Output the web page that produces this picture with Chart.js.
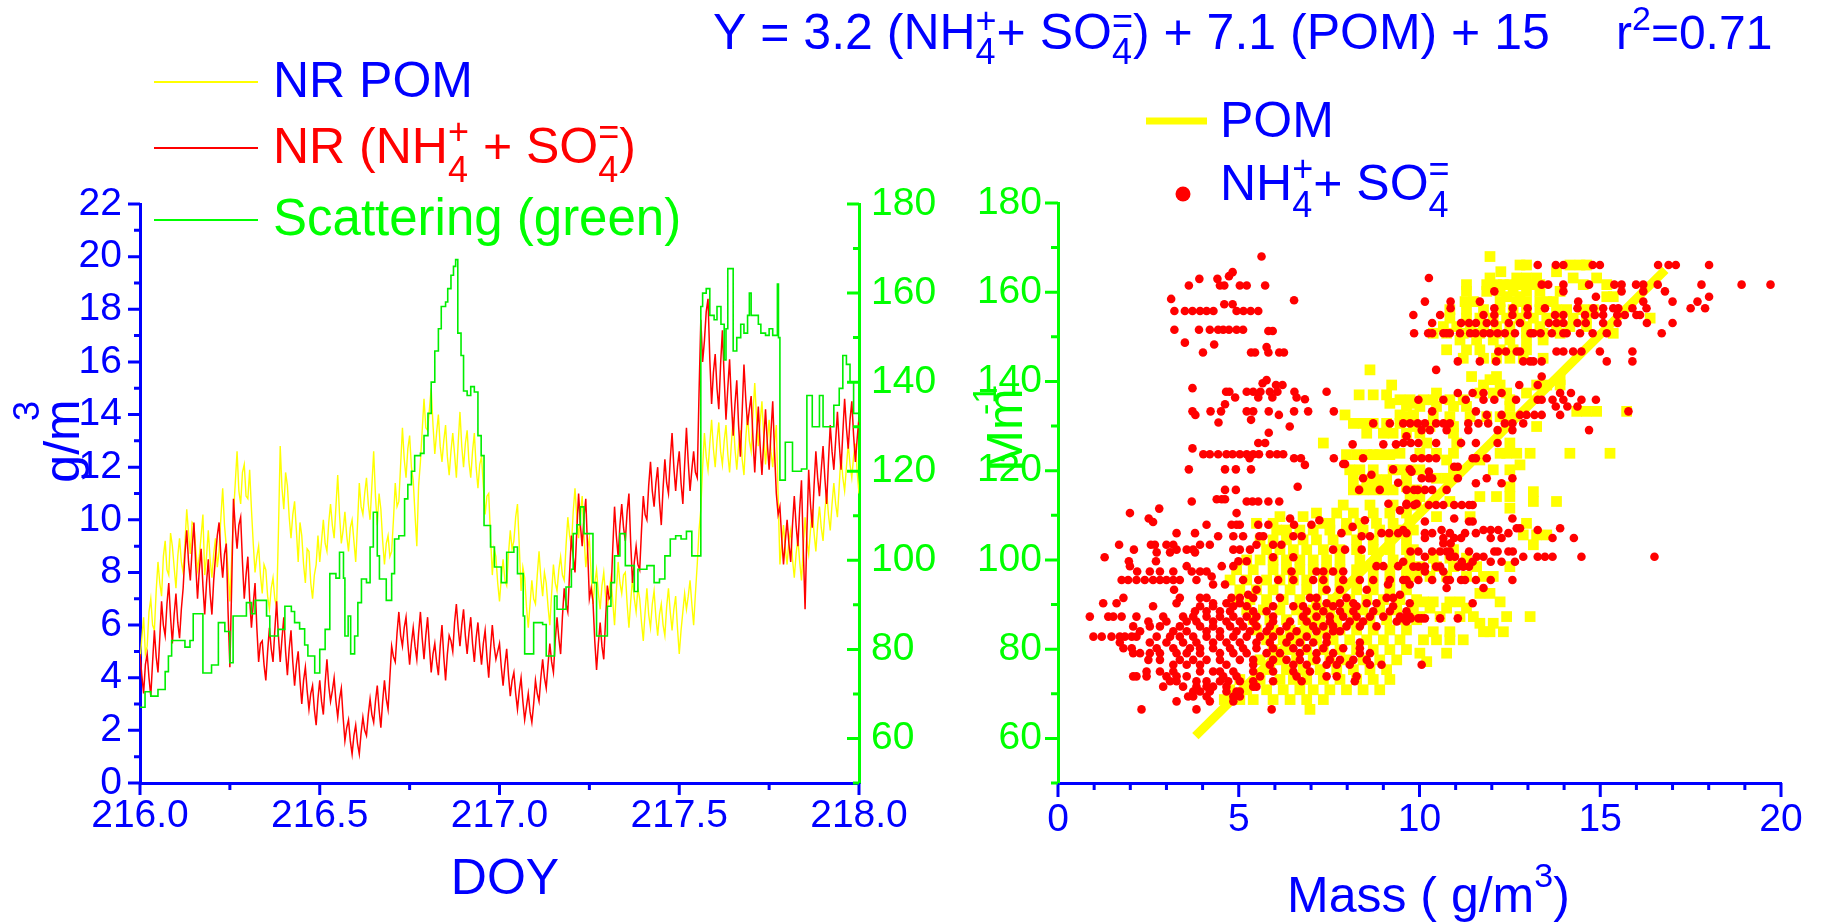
<!DOCTYPE html>
<html>
<head>
<meta charset="utf-8">
<script src="https://cdn.jsdelivr.net/npm/chart.js@4.4.0/dist/chart.umd.min.js"></script>
<style>
  body { margin: 0; background: #fff; }
  canvas { position: absolute; left: 0; top: 0; }
</style>
</head>
<body>
<canvas id="timeChart" width="1831" height="924"></canvas>
<canvas id="massChart" width="1831" height="924"></canvas>
<script>
// time series, one value every 0.005 day from DOY 216.000
const doyStart = 216.0;
const doyStep = 0.005;

// NR POM (ug/m3)
const pomSeries = [
  4.6, 5.5, 6.3, 4.9, 5.2, 6.5, 7.0, 6.0, 5.8, 7.3,
  8.4, 7.6, 7.1, 8.6, 9.2, 8.1, 7.9, 9.5, 9.0, 8.2,
  7.4, 8.6, 9.3, 8.4, 8.0, 9.1, 10.4, 9.5, 8.7, 9.9,
  9.8, 8.9, 8.1, 8.6, 9.4, 10.2, 7.9, 8.6, 9.6, 8.5,
  7.8, 8.7, 9.3, 8.2, 8.8, 10.1, 11.2, 9.8, 9.0, 8.1,
  6.9, 8.5, 10.2, 11.4, 12.6, 11.1, 10.6, 11.8, 12.1, 10.9,
  10.8, 11.9, 10.4, 9.1, 8.0, 8.6, 9.0, 7.9, 7.2, 8.3,
  8.1, 7.1, 6.6, 7.4, 7.8, 7.0, 6.7, 9.5, 12.8, 11.2,
  10.4, 11.8, 11.3, 10.1, 9.3, 10.2, 10.7, 9.6, 8.4, 9.9,
  9.4, 8.3, 7.6, 8.9, 8.8, 7.6, 7.0, 7.9, 8.3, 9.4,
  8.4, 9.2, 10.0, 9.1, 8.8, 9.9, 10.6, 9.8, 9.3, 10.5,
  11.7, 10.2, 9.1, 9.6, 10.3, 9.4, 8.8, 9.7, 10.0, 9.2,
  8.4, 9.8, 11.4, 10.5, 10.2, 11.0, 11.6, 10.6, 10.0, 11.3,
  12.6, 10.9, 9.8, 11.0, 10.4, 9.2, 8.3, 9.1, 9.4, 8.6,
  8.8, 10.0, 11.4, 10.5, 10.7, 12.1, 13.5, 12.3, 11.6, 12.7,
  13.2, 12.0, 11.5, 10.2, 9.0, 11.3, 12.2, 13.4, 14.6, 13.5,
  13.4, 14.2, 15.0, 13.6, 12.5, 13.3, 14.0, 12.8, 12.2, 13.0,
  13.6, 12.4, 11.7, 12.6, 13.3, 12.5, 11.6, 12.9, 14.1, 12.8,
  12.0, 12.9, 13.4, 12.2, 11.6, 12.6, 13.3, 12.0, 11.2, 12.1,
  12.4, 11.3, 10.2, 10.9, 11.0, 9.4, 7.9, 8.9, 8.6, 7.6,
  6.9, 7.8, 8.5, 7.7, 7.5, 8.7, 9.6, 8.9, 9.2, 10.1,
  10.6, 9.0, 7.3, 8.2, 7.8, 6.7, 5.9, 6.8, 7.7, 7.0,
  6.8, 7.9, 8.8, 7.8, 7.1, 8.0, 7.6, 6.7, 6.0, 7.2,
  8.3, 7.6, 7.3, 8.1, 8.6, 7.9, 7.7, 9.0, 10.1, 9.4,
  9.0, 10.3, 11.2, 10.1, 9.3, 10.2, 10.9, 9.4, 8.2, 8.9,
  9.3, 7.9, 6.8, 7.6, 8.1, 7.2, 6.6, 7.5, 8.0, 7.1,
  6.6, 7.3, 7.8, 6.9, 6.0, 7.3, 8.4, 7.6, 7.2, 7.9,
  8.0, 6.8, 5.9, 6.9, 7.8, 7.0, 6.5, 7.4, 7.0, 6.1,
  5.4, 6.5, 7.4, 6.4, 5.9, 6.8, 7.3, 6.3, 5.6, 6.4,
  6.8, 6.0, 5.6, 6.7, 7.4, 6.5, 5.8, 6.6, 7.1, 5.9,
  4.9, 5.8, 6.5, 7.2, 6.6, 7.1, 7.7, 6.8, 6.0, 7.2,
  8.3, 9.6, 10.4, 12.0, 13.3, 12.4, 11.9, 12.9, 13.8, 12.7,
  12.0, 13.0, 13.7, 12.6, 12.1, 13.0, 13.6, 12.5, 11.8, 12.9,
  13.9, 12.7, 11.9, 12.8, 13.4, 12.3, 11.7, 13.1, 14.0, 13.0,
  12.6, 14.0, 15.2, 13.9, 12.8, 13.7, 14.5, 13.2, 12.1, 13.0,
  13.8, 12.6, 12.0, 12.9, 13.6, 10.9, 8.3, 9.1, 9.8, 8.9,
  8.3, 9.2, 9.6, 8.5, 7.8, 8.7, 9.3, 8.4, 7.7, 8.9,
  10.1, 9.2, 8.7, 9.6, 10.4, 9.5, 8.8, 9.8, 10.5, 9.7,
  9.2, 10.3, 11.1, 10.2, 9.6, 10.6, 11.4, 10.6, 10.1, 11.3,
  12.5, 11.6, 11.1, 12.0, 12.9, 12.1, 11.6, 12.4, 12.9, 11.8,
  11.0
];

// NR ammonium + sulfate (ug/m3)
const nhsoSeries = [
  4.9, 4.1, 3.4, 4.5, 4.9, 4.0, 3.3, 4.6, 5.8, 4.8,
  4.2, 5.5, 6.9, 6.0, 5.6, 6.8, 7.6, 6.3, 5.3, 6.4,
  7.2, 6.1, 5.5, 6.6, 7.4, 8.7, 9.6, 8.4, 7.7, 8.9,
  9.9, 8.3, 7.0, 8.1, 8.9, 7.5, 6.4, 7.6, 8.5, 7.2,
  6.4, 7.7, 8.6, 9.4, 9.9, 8.6, 7.8, 8.7, 9.1, 6.5,
  4.4, 7.5, 10.8, 9.7, 8.9, 9.8, 10.1, 8.4, 7.0, 7.9,
  8.6, 7.0, 5.9, 6.8, 7.6, 5.9, 4.6, 5.3, 5.4, 4.5,
  3.9, 5.0, 5.9, 5.1, 4.6, 5.8, 6.9, 5.6, 4.6, 5.5,
  6.3, 5.0, 4.1, 5.1, 5.8, 4.6, 3.7, 4.5, 5.0, 3.9,
  3.0, 3.9, 4.4, 3.5, 2.8, 3.4, 3.7, 2.8, 2.2, 3.2,
  3.9, 3.1, 2.6, 3.8, 4.7, 3.7, 3.1, 3.5, 4.0, 3.1,
  2.5, 3.2, 3.6, 2.5, 1.6, 2.1, 2.4, 1.6, 1.1, 1.8,
  2.2, 1.5, 1.1, 1.9, 2.5, 2.0, 1.8, 2.6, 3.2, 2.6,
  2.3, 3.1, 3.7, 2.8, 2.1, 3.1, 3.9, 3.2, 2.8, 4.0,
  5.2, 4.8, 4.6, 5.7, 6.5, 5.6, 5.2, 5.9, 6.3, 5.3,
  4.5, 5.3, 5.9, 5.2, 4.7, 5.7, 6.5, 5.5, 4.7, 5.6,
  6.3, 5.2, 4.2, 4.9, 5.3, 4.6, 4.1, 5.2, 6.0, 4.8,
  3.9, 4.9, 5.6, 5.4, 5.0, 6.1, 6.8, 5.9, 5.2, 6.0,
  6.6, 5.6, 4.9, 5.7, 6.3, 5.3, 4.6, 5.5, 6.1, 5.2,
  4.5, 5.3, 5.8, 4.8, 4.0, 5.1, 6.0, 5.2, 4.7, 5.0,
  5.3, 4.4, 3.7, 4.5, 5.1, 4.1, 3.3, 3.9, 4.2, 3.4,
  2.8, 3.5, 4.0, 3.1, 2.4, 2.9, 3.4, 2.7, 2.3, 3.0,
  3.9, 3.4, 3.1, 4.0, 4.7, 4.0, 3.6, 4.5, 5.3, 4.6,
  4.2, 5.4, 6.3, 5.5, 4.9, 6.3, 7.4, 6.8, 6.5, 8.0,
  9.4, 8.6, 8.0, 9.6, 11.0, 9.8, 9.0, 10.1, 10.8, 8.9,
  7.0, 7.4, 6.9, 5.4, 4.3, 5.3, 6.1, 5.2, 4.7, 6.2,
  7.5, 7.0, 7.1, 8.9, 10.5, 9.4, 8.6, 9.8, 10.6, 9.7,
  9.2, 10.3, 11.0, 9.1, 7.6, 8.4, 9.0, 8.3, 8.1, 9.6,
  10.9, 10.2, 10.0, 11.3, 12.2, 11.1, 10.5, 11.4, 12.0, 10.7,
  9.8, 11.2, 12.3, 11.4, 11.0, 12.3, 13.3, 12.0, 11.1, 12.0,
  12.6, 11.4, 10.6, 12.1, 13.5, 12.2, 11.1, 11.9, 12.6, 11.8,
  11.6, 14.8, 17.6, 16.0, 16.8, 17.9, 18.4, 16.1, 14.4, 15.6,
  16.3, 15.0, 14.2, 15.9, 17.2, 15.4, 13.8, 15.0, 16.1, 14.5,
  13.2, 14.4, 15.3, 13.6, 12.4, 14.1, 15.9, 14.6, 13.6, 14.2,
  14.7, 13.1, 11.8, 13.2, 14.3, 12.8, 11.7, 13.0, 14.2, 12.9,
  11.9, 13.3, 14.5, 12.6, 11.0, 10.2, 10.5, 9.3, 8.3, 9.2,
  10.0, 9.1, 8.4, 9.8, 10.9, 9.8, 9.0, 10.4, 11.5, 8.9,
  6.6, 9.5, 11.9, 10.6, 9.7, 11.3, 12.6, 11.6, 10.9, 11.9,
  12.8, 11.6, 10.6, 12.2, 13.6, 12.6, 11.9, 13.0, 14.1, 12.9,
  11.9, 13.3, 14.6, 13.5, 12.7, 13.8, 14.5, 13.2, 12.2, 13.1,
  13.9
];

// green scattering (Mm-1), stepped record: [DOY where a level starts, level]
const scatSteps = [
  [216.000, 67], [216.014, 70.5], [216.030, 69.5], [216.050, 71], [216.070, 75],
  [216.079, 78.5], [216.088, 82], [216.125, 80.5], [216.139, 82], [216.148, 88],
  [216.175, 74.7], [216.199, 76.5], [216.218, 86], [216.236, 84], [216.250, 77],
  [216.259, 87.5], [216.296, 90.5], [216.310, 88], [216.320, 91], [216.352, 87.5],
  [216.361, 83], [216.384, 84.5], [216.403, 89.7], [216.421, 88.5], [216.430, 86],
  [216.444, 84.6], [216.458, 81], [216.467, 78.5], [216.486, 74.7], [216.500, 80],
  [216.515, 84.5], [216.528, 97], [216.545, 96], [216.555, 101.8], [216.566, 96],
  [216.570, 83], [216.579, 87.5], [216.586, 79], [216.597, 83], [216.606, 90.5],
  [216.616, 95.8], [216.630, 95], [216.640, 103], [216.649, 110.8], [216.660, 101],
  [216.666, 95.8], [216.685, 91], [216.700, 97], [216.708, 104.8], [216.720, 105.5],
  [216.736, 113.8], [216.745, 117], [216.755, 120], [216.764, 123.5], [216.780, 124],
  [216.790, 128], [216.801, 133], [216.810, 140], [216.820, 147], [216.830, 152],
  [216.838, 157], [216.850, 158], [216.856, 161], [216.865, 164], [216.872, 166],
  [216.878, 167.5], [216.884, 151], [216.893, 146], [216.900, 138], [216.910, 137],
  [216.920, 139], [216.930, 137.8], [216.940, 128], [216.949, 123.5], [216.957, 107.8],
  [216.975, 103], [216.986, 98.5], [217.005, 95], [217.020, 101.8], [217.040, 103],
  [217.050, 97], [217.066, 87.5], [217.070, 79], [217.095, 86], [217.120, 85.6],
  [217.130, 78.5], [217.153, 92], [217.160, 89], [217.185, 94], [217.200, 98],
  [217.205, 106], [217.215, 108], [217.225, 112], [217.235, 106], [217.260, 95],
  [217.270, 83], [217.300, 89.7], [217.310, 95], [217.320, 101], [217.335, 106],
  [217.350, 98.8], [217.375, 93], [217.385, 98], [217.410, 98.8], [217.430, 95],
  [217.445, 95.8], [217.460, 101], [217.475, 104.8], [217.490, 105.5], [217.505, 104.8],
  [217.520, 106.5], [217.535, 101], [217.560, 157], [217.565, 160], [217.575, 161],
  [217.585, 155], [217.597, 154], [217.605, 157], [217.616, 153], [217.625, 145],
  [217.630, 152], [217.635, 165.5], [217.650, 147], [217.660, 150], [217.671, 153],
  [217.680, 151], [217.690, 155], [217.695, 160], [217.700, 155], [217.720, 153],
  [217.727, 151], [217.740, 150.5], [217.750, 152], [217.760, 150.5], [217.773, 162],
  [217.776, 150], [217.780, 118], [217.795, 126.5], [217.815, 120], [217.840, 120.5],
  [217.855, 137], [217.870, 130], [217.890, 137], [217.900, 130], [217.930, 134.8],
  [217.945, 138.6], [217.955, 146], [217.965, 144], [217.975, 140], [217.985, 133],
  [218.000, 131]
];

// POM mass (ug/m3) against scattering, grouped by scattering level: [Mm-1, [masses]]
const pomRows = [
  [168.0, [11.95]],
  [166.1, [12.78, 12.96, 14.16, 14.44, 14.62]],
  [164.6, [12.25, 13.79]],
  [163.2, [11.95, 12.69, 12.96, 13.24, 14.25, 14.9]],
  [161.7, [11.3, 11.86, 12.13, 12.32, 12.5, 12.69, 12.87, 13.06, 13.33, 14.53, 15.18]],
  [160.2, [11.3, 11.86, 12.23, 12.59, 12.96, 13.33, 13.89]],
  [159.0, [12.41, 12.78, 15.18, 15.36]],
  [157.9, [11.26, 11.49, 12.23, 12.69, 12.96, 13.33, 13.52, 13.7]],
  [156.1, [10.84, 11.3, 11.77, 12.23, 12.59, 12.96, 13.33, 13.79, 14.07, 14.53, 14.81]],
  [154.2, [10.84, 11.3, 11.67, 12.04, 12.41, 12.78, 13.15, 13.52, 13.89, 14.25, 14.62, 16.38]],
  [152.3, [10.66, 11.03, 11.4, 11.77, 12.13, 12.5, 12.96, 13.33, 13.79, 14.16, 14.62]],
  [150.8, [10.38, 10.75, 11.21, 11.67, 12.13, 12.5, 12.96, 13.42, 13.89, 15.36]],
  [149.3, [11.12, 11.58, 12.04, 12.5, 12.96, 13.42]],
  [147.1, [10.75, 11.3, 11.67, 12.23, 12.59, 12.96]],
  [145.2, [11.21, 11.77, 12.13, 12.5, 12.87, 13.42]],
  [142.6, [8.63]],
  [141.1, [11.44, 12.13]],
  [140.4, [11.95, 13.89]],
  [139.2, [9.23, 11.77, 12.23, 13.24, 13.52, 13.89]],
  [137.4, [10.47, 11.67, 12.04, 12.41, 12.96]],
  [137.0, [8.33, 8.72, 9.09]],
  [135.9, [9.46, 9.74, 10.11, 10.38, 10.84, 11.21, 12.5]],
  [135.1, [9.18, 9.73]],
  [134.4, [9.64, 10.01, 10.47, 10.94, 11.3, 12.5]],
  [133.3, [14.35, 14.62, 14.9, 15.73]],
  [132.5, [7.94, 9.46, 9.83]],
  [132.1, [9.64, 9.83, 10.38, 10.84, 11.4, 11.86, 12.23, 12.5]],
  [130.6, [8.17, 8.44, 8.72, 9.09, 9.46, 9.83]],
  [129.9, [9.83, 10.29, 10.94, 13.24]],
  [128.4, [8.54, 9.0, 9.27, 9.64, 10.01, 10.94]],
  [126.2, [7.34, 10.2, 11.03, 12.5]],
  [123.9, [9.46, 10.01, 10.47, 10.94, 12.23, 12.41, 12.69, 13.06, 14.16, 15.27]],
  [123.6, [7.98, 8.26, 8.54, 8.72, 8.9, 9.18]],
  [122.4, [10.75, 11.67]],
  [121.3, [12.78]],
  [120.2, [8.07, 8.35, 8.72, 9.27, 9.46, 9.74, 10.01, 10.94, 12.04, 12.5]],
  [118.3, [9.64, 10.47, 10.75]],
  [118.0, [8.17, 8.54, 8.81, 9.09]],
  [116.4, [9.64, 12.5]],
  [115.7, [8.17, 8.44, 8.72, 9.0, 9.27, 9.92]],
  [115.3, [13.15]],
  [114.2, [9.74, 10.01, 11.67, 12.13, 12.5]],
  [113.1, [10.84, 13.15, 13.79]],
  [112.3, [7.89, 8.63, 9.27, 9.92]],
  [111.6, [12.5]],
  [110.5, [7.15, 7.71, 8.17, 8.72, 9.18, 9.64]],
  [109.7, [6.14, 6.78, 10.47, 11.4]],
  [108.2, [5.49, 5.95, 7.34, 7.52, 7.98, 8.35, 8.81, 9.27, 9.73, 12.96]],
  [106.7, [6.05, 6.32, 6.69, 7.06, 7.52, 7.98, 8.44, 8.9, 9.37, 9.83]],
  [105.6, [12.87, 13.24, 13.52]],
  [104.5, [5.59, 5.95, 6.32, 6.78, 7.15, 7.61, 8.26, 8.72, 9.18, 9.64]],
  [103.4, [13.15]],
  [102.3, [5.77, 6.14, 6.51, 6.88, 7.34, 7.8, 8.26, 8.72, 9.18, 9.64, 9.83, 10.94]],
  [100.4, [10.38, 10.84, 11.3]],
  [100.0, [5.22, 5.59, 5.95, 6.32, 6.69, 7.06, 7.43, 7.8, 8.35, 8.81, 9.27, 9.73]],
  [98.5, [10.01, 10.47, 10.94, 11.58, 12.5]],
  [97.8, [4.94, 5.4, 5.95, 6.32, 6.69, 7.06, 7.43, 7.8, 8.26, 8.72, 9.18, 9.64]],
  [96.3, [9.92, 10.29, 10.75, 11.3, 11.77, 12.04]],
  [95.5, [4.76, 5.22, 5.77, 6.14, 6.51, 6.88, 7.34, 7.8, 8.26, 8.72, 9.18, 9.64]],
  [93.3, [5.03, 5.49, 5.95, 6.42, 6.88, 7.34, 7.8, 8.26, 8.72, 9.18, 9.64]],
  [92.5, [11.67, 11.95]],
  [91.1, [4.85, 5.31, 5.77, 6.23, 6.69, 7.15, 7.61, 8.07, 8.54, 9.0, 9.46, 9.92]],
  [90.6, [10.11, 10.38, 10.84, 11.12, 12.23]],
  [89.2, [10.29, 10.75, 11.3]],
  [88.8, [5.22, 5.68, 6.14, 6.6, 7.06, 7.52, 7.98, 8.44, 8.9, 9.37, 9.83]],
  [87.3, [10.01, 10.57, 11.12, 11.49, 12.41, 13.06]],
  [86.6, [5.4, 5.86, 6.32, 6.78, 7.25, 7.71, 8.17, 8.63, 9.09, 9.55, 9.92]],
  [85.8, [11.67, 12.04]],
  [84.3, [5.49, 5.95, 6.42, 6.88, 7.34, 7.8, 8.26, 8.72, 9.18, 9.64]],
  [83.9, [10.38, 10.84, 11.77, 11.95, 12.32]],
  [82.1, [5.77, 6.23, 6.69, 7.15, 7.61, 8.07, 8.54, 9.0, 9.46, 10.11, 10.47, 10.84, 11.21]],
  [79.9, [5.95, 6.42, 6.88, 7.34, 7.8, 8.26, 8.72, 9.18, 9.64]],
  [79.1, [10.01, 10.75]],
  [77.6, [5.59, 6.14, 6.6, 7.06, 7.52, 7.98, 8.44, 8.9, 9.37]],
  [77.2, [10.2]],
  [75.4, [5.86, 6.32, 6.78, 7.25, 7.71, 8.17, 8.63, 9.09]],
  [73.2, [5.03, 5.59, 6.14, 6.51, 6.88, 7.34, 7.8, 8.26, 8.72, 9.18]],
  [70.9, [4.75, 5.22, 5.77, 6.23, 6.69, 7.06, 7.52, 7.98, 8.44, 8.9]],
  [68.7, [4.6, 5.03, 5.4, 5.95, 6.42, 6.88, 7.34]],
  [66.5, [6.97]]
];

// NH4+ + SO4= mass (ug/m3) against scattering: [Mm-1, [masses]]
const nhsoRows = [
  [168.0, [5.63]],
  [166.1, [13.27, 13.77, 13.98, 14.79, 14.99, 16.6, 16.89, 17.09, 18.01]],
  [164.5, [4.83]],
  [163.6, [4.73]],
  [163.2, [10.26]],
  [163.0, [3.91, 4.41]],
  [161.7, [13.38, 13.56, 13.98, 14.69, 15.39, 15.59, 15.99, 16.19, 16.59, 17.8, 18.91, 19.71]],
  [161.5, [3.62, 4.48, 4.6, 5.03, 5.22, 5.73]],
  [160.2, [12.07, 13.98, 15.59, 16.19, 16.79]],
  [159.0, [14.88, 18.01]],
  [158.5, [3.13]],
  [158.2, [6.53]],
  [157.9, [10.15, 10.86, 11.67, 14.39, 16.19, 17.0, 17.69]],
  [157.3, [4.6, 4.83]],
  [156.4, [10.86, 12.07, 12.58, 12.99, 13.47, 14.37, 14.81, 15.08, 15.36, 15.5, 15.89, 16.28, 17.5, 17.9]],
  [155.8, [3.22, 3.51, 3.72, 3.93, 4.11, 4.3, 4.94, 5.13, 5.33, 5.54]],
  [154.9, [9.83, 10.57, 11.77, 12.07, 12.57, 12.99, 13.75, 13.98, 14.58, 14.85, 15.08, 15.47, 15.68, 16.0, 16.1]],
  [153.1, [10.35, 11.15, 11.37, 11.56, 11.86, 12.07, 12.47, 12.78, 13.58, 13.79, 13.98, 14.37, 14.6, 15.08, 15.48, 16.29, 17.0]],
  [151.6, [3.22, 3.9, 4.2, 4.43, 4.57, 4.73, 4.94, 5.12]],
  [151.3, [5.82, 5.94]],
  [150.8, [9.85, 10.24, 10.35, 10.66, 10.75, 10.84, 11.12, 11.4, 11.55, 11.77, 11.95, 12.16, 12.36, 12.64, 13.07, 13.15, 13.35, 13.66, 13.98, 14.07, 14.44, 14.79, 15.18, 16.7]],
  [148.7, [3.51]],
  [148.3, [4.32]],
  [147.7, [5.77]],
  [146.7, [12.18, 12.39, 12.69, 12.78, 13.79, 13.98, 14.25, 14.48, 14.99, 15.89]],
  [146.5, [4.01, 5.34, 5.45, 5.82, 6.12, 6.25]],
  [144.5, [11.06, 11.67, 12.12, 12.87, 13.06, 13.15, 13.38, 15.18, 15.89]],
  [142.6, [10.46]],
  [141.1, [13.38]],
  [140.3, [5.77]],
  [139.6, [5.66]],
  [139.2, [6.03, 6.21, 12.76, 13.27]],
  [138.5, [3.72]],
  [137.7, [4.65, 4.74, 5.22, 5.4, 5.6, 5.86, 6.07, 6.54, 7.43]],
  [137.4, [11.06, 11.47, 11.77, 12.27, 13.89, 14.19]],
  [136.4, [4.9, 5.54, 5.93, 6.6]],
  [136.0, [6.83]],
  [135.9, [9.97, 10.66, 11.28, 11.77, 12.07, 12.67, 13.27, 13.38, 13.68, 13.98, 14.48, 14.88]],
  [134.9, [4.62]],
  [134.4, [13.77, 14.09, 14.37]],
  [133.3, [3.72, 4.22, 4.51, 5.22, 5.4, 5.83, 6.53, 6.92, 7.63, 10.35, 11.56, 15.78]],
  [132.5, [3.8, 6.11, 11.86, 12.27, 12.78, 12.96, 13.18, 13.38, 13.89]],
  [131.4, [5.34]],
  [130.8, [4.44]],
  [130.6, [8.72, 9.18, 9.55, 9.74, 9.95, 10.15, 10.46, 10.66, 10.84, 11.35, 11.63, 11.9, 12.36, 12.57, 12.87]],
  [129.9, [6.41]],
  [129.1, [10.06, 10.29, 10.75, 11.35, 12.16, 12.57, 14.69]],
  [128.5, [5.83]],
  [127.7, [9.64]],
  [126.2, [5.54, 5.73, 9.55, 9.76, 9.97, 10.46, 11.15, 11.56, 12.16]],
  [125.9, [8.15, 9.0, 9.35]],
  [125.0, [3.72]],
  [123.7, [4.02, 4.2, 4.43, 4.66, 4.83, 5.03, 5.22, 5.4, 5.56, 5.86, 6.06, 6.23]],
  [122.8, [5.3, 6.53, 6.72, 7.63, 8.44, 9.85, 10.06, 10.26, 10.46, 11.47, 11.56, 11.86]],
  [121.5, [7.89, 7.94]],
  [121.3, [6.83]],
  [120.9, [10.96, 11.06]],
  [120.3, [3.62, 4.62, 4.92, 5.34, 9.27, 9.73]],
  [119.8, [9.78, 10.26]],
  [119.1, [8.67]],
  [118.3, [8.44, 10.06, 10.26, 10.35, 11.06, 11.86, 12.57]],
  [117.3, [9.41]],
  [117.2, [11.56, 12.27]],
  [116.4, [6.63]],
  [115.7, [4.62, 4.92, 8.33, 8.9, 9.64, 9.85, 9.95, 10.15, 10.35, 10.75]],
  [113.6, [4.39, 4.53, 4.62]],
  [113.1, [3.7, 5.22, 5.38, 5.54, 5.82, 6.12]],
  [112.6, [9.14, 9.64, 9.92]],
  [112.3, [9.64, 9.85, 10.26, 10.46, 10.66, 10.96, 11.17, 11.37, 11.47]],
  [111.5, [2.8]],
  [111.1, [9.46]],
  [110.5, [1.99, 4.94]],
  [109.3, [2.51, 6.42, 10.96, 12.57]],
  [108.9, [7.23, 8.49]],
  [108.6, [10.15, 11.37, 11.47]],
  [108.5, [2.63]],
  [107.9, [4.11, 4.8, 4.94, 5.03, 5.54, 5.82, 6.53, 7.01]],
  [107.4, [8.15]],
  [107.1, [12.69, 12.78, 13.89]],
  [106.7, [9.55, 10.61, 11.77, 11.97, 12.18, 13.27]],
  [106.0, [3.28, 3.79, 7.84, 8.95, 9.16, 9.41, 9.64, 10.15, 10.35, 10.84, 11.26, 11.56, 12.46]],
  [105.3, [4.43, 4.85, 5.12, 5.57, 5.68, 6.51, 6.74, 8.4, 8.63]],
  [104.9, [10.15, 10.66, 10.96, 11.15, 11.97, 12.27, 13.68, 14.27]],
  [103.7, [10.66, 10.86]],
  [103.4, [1.69, 2.57, 2.68, 3.0, 3.19, 3.93, 4.2, 5.49, 5.95, 6.18]],
  [102.3, [2.1, 3.28, 3.56, 3.74, 4.85, 5.03, 5.31, 7.61, 7.94, 8.4]],
  [101.9, [9.75, 9.97, 10.35, 10.57, 10.75, 10.84, 11.37, 12.07, 12.16, 12.46, 12.58]],
  [101.7, [2.73, 3.1, 3.79]],
  [100.7, [10.15, 10.84, 10.98, 11.58, 11.77, 12.87, 13.27, 13.47, 13.68, 14.48, 16.5]],
  [100.6, [1.29, 5.95, 6.51]],
  [99.7, [1.96, 2.71, 4.99, 5.22]],
  [99.6, [9.55, 11.17, 11.47, 11.97, 12.27, 12.64]],
  [98.6, [1.99, 3.56, 4.53, 4.85, 8.81, 9.0, 9.41]],
  [98.5, [9.83, 9.97, 10.15, 10.46, 10.57, 11.07, 11.21, 11.37]],
  [97.4, [2.19, 2.54, 2.82, 3.19, 3.7, 3.93, 4.11, 6.46, 7.15, 7.34, 7.61, 7.89, 10.15, 10.66]],
  [96.3, [4.25]],
  [95.5, [1.76, 1.94, 2.17, 2.4, 2.63, 2.82, 3.0, 3.19, 3.37, 3.83, 5.12, 5.54, 6.09, 6.51, 7.06, 7.34, 7.89, 8.35, 8.72, 9.18, 9.55, 9.64, 9.97, 10.35, 10.75, 10.84, 11.15, 11.26, 11.56, 11.97, 12.57]],
  [94.5, [4.29, 4.62, 9.13, 9.73]],
  [93.7, [10.75, 11.77]],
  [93.3, [3.21, 5.49, 7.43, 7.8, 8.54]],
  [92.2, [5.26, 9.46]],
  [91.5, [1.81, 3.37, 3.93, 4.11, 4.8, 5.03, 5.4, 6.14, 6.97, 7.15, 7.98, 9.09, 9.27]],
  [90.3, [1.25, 1.62, 3.28, 4.29, 4.66, 5.03, 7.43, 7.8, 8.17, 8.54, 8.81, 9.73, 11.47]],
  [89.6, [2.63, 3.93, 4.29, 4.85, 5.22, 5.95, 6.51, 6.78, 7.15, 7.61, 8.26, 9.27]],
  [88.5, [3.79, 4.11, 4.48, 4.76, 5.4, 5.77, 6.88, 7.34, 7.8, 8.17, 8.72, 9.18, 9.64]],
  [87.3, [0.88, 1.39, 1.53, 1.76, 2.17, 2.91, 3.46, 3.74, 4.11, 4.48, 4.85, 5.22, 5.49, 5.95, 6.78, 7.15, 7.52, 7.89, 8.26, 8.63, 9.0, 9.46, 9.73]],
  [86.9, [9.55, 9.76, 9.97, 10.06, 10.15, 10.57, 11.06]],
  [86.2, [2.5, 3.0, 3.56, 3.83, 4.29, 4.66, 5.03, 5.4, 5.95, 6.42, 6.88, 7.52, 8.07, 8.44, 9.37, 9.64]],
  [85.1, [2.08, 2.54, 2.82, 3.37, 3.93, 4.29, 4.76, 5.12, 5.49, 5.86, 6.32, 7.06, 7.34, 7.61, 7.98, 8.35, 8.81]],
  [84.0, [2.27, 3.19, 3.56, 4.11, 4.48, 4.94, 5.31, 5.77, 6.14, 6.6, 7.15, 7.61, 7.8]],
  [82.8, [0.98, 1.21, 1.48, 1.71, 1.85, 2.04, 2.17, 2.73, 3.1, 3.37, 3.74, 4.11, 4.48, 4.85, 5.22, 5.59, 5.95, 6.42, 6.88, 7.43]],
  [81.5, [1.71, 2.54, 3.0, 3.46, 3.83, 4.29, 4.66, 5.03, 5.49, 5.86, 6.32, 6.69, 7.06, 7.43, 8.35]],
  [80.2, [1.81, 2.04, 2.73, 3.19, 3.65, 3.93, 4.29, 4.76, 5.12, 5.49, 5.95, 6.51, 6.88, 7.34, 7.89, 8.35]],
  [79.1, [2.08, 2.27, 2.54, 2.82, 3.28, 3.56, 3.93, 4.48, 4.85, 5.22, 5.77, 6.14, 6.69, 7.15, 7.61, 8.35, 8.63]],
  [77.6, [2.5, 2.82, 3.37, 3.74, 4.11, 4.48, 5.03, 5.4, 5.95, 6.32, 6.69, 7.15, 7.52, 7.8, 8.17, 8.54]],
  [76.5, [3.19, 3.56, 3.93, 4.66, 5.4, 5.86, 6.51, 6.88, 7.43, 7.71, 8.07, 8.63, 8.95, 10.06]],
  [75.0, [2.45, 2.82, 3.19, 3.93, 4.29, 4.48, 4.85, 5.4, 5.95, 6.51, 6.97]],
  [73.9, [2.08, 2.17, 2.45, 3.0, 3.28, 3.56, 4.57, 4.94, 5.59, 6.6, 7.43, 7.71, 8.26]],
  [72.8, [3.1, 3.28, 3.83, 4.11, 4.48, 4.71, 5.03, 5.4, 5.95, 6.74, 8.21]],
  [71.6, [2.91, 3.46, 3.83, 4.11, 4.29, 4.66, 5.4, 5.49]],
  [70.5, [3.74, 3.93, 4.2, 4.66, 4.94, 5.03]],
  [69.4, [3.6, 3.74, 4.11, 4.85, 5.03]],
  [68.3, [3.28, 4.2, 4.85]],
  [66.5, [2.31, 3.83, 5.91]]
];

// fitted line drawn under the points
const fitMass = [3.8, 16.8];
const fitScat = [60.5, 165];

// tick labels
const doyTicks = [216.0, 216.5, 217.0, 217.5, 218.0];
const concTicks = [0, 2, 4, 6, 8, 10, 12, 14, 16, 18, 20, 22];
const scatTicks = [60, 80, 100, 120, 140, 160, 180];
const massTicks = [0, 5, 10, 15, 20];

const BLUE = '#0000ff';
const GREEN = '#00ff00';
const RED = '#ff0000';
const YELLOW = '#ffff00';
const FONT = "'Liberation Sans', Arial, sans-serif";
const tickFont = { family: FONT, size: 39 };

const doyAt = i => Math.round((doyStart + i * doyStep) * 1000) / 1000;
const pomPts = pomSeries.map((v, i) => ({ x: doyAt(i), y: v }));
const nhsoPts = nhsoSeries.map((v, i) => ({ x: doyAt(i), y: v }));
const scatPts = scatSteps.map(s => ({ x: s[0], y: s[1] }));
const rowsToPts = rows => rows.flatMap(r => r[1].map(m => ({ x: m, y: r[0] })));

const fixTicks = list => scale => { scale.ticks = list.map(v => ({ value: v })); };

// tick marks: long on labelled values, short in between
function tickMarkPlugin(marks) {
  return {
    id: 'tickMarks',
    afterDraw(chart) {
      const ctx = chart.ctx;
      marks.forEach(m => {
        const s = chart.scales[m.scale];
        const n = Math.round((s.max - s.min) / m.step);
        ctx.save();
        ctx.strokeStyle = m.color;
        ctx.lineWidth = 3;
        ctx.beginPath();
        for (let i = 0; i <= n; i++) {
          const v = s.min + i * m.step;
          const r = v / m.major;
          const len = Math.abs(r - Math.round(r)) < 1e-6 ? m.long : m.short;
          const p = s.getPixelForValue(v);
          if (m.side === 'bottom') { ctx.moveTo(p, s.top); ctx.lineTo(p, s.top + len); }
          else if (m.side === 'left') { ctx.moveTo(s.right - len, p); ctx.lineTo(s.right, p); }
          else { ctx.moveTo(s.left - len, p); ctx.lineTo(s.left, p); }
        }
        ctx.stroke();
        ctx.restore();
      });
    }
  };
}

// text with sub/superscripts; parts are strings or {sub, sup}
function richText(ctx, parts, x, y, o) {
  const small = o.small || Math.round(o.size * 0.7);
  let cx = x;
  parts.forEach(p => {
    if (typeof p === 'string') {
      ctx.font = o.size + 'px ' + FONT;
      if (o.draw !== false) ctx.fillText(p, cx, y);
      cx += ctx.measureText(p).width;
    } else {
      ctx.font = small + 'px ' + FONT;
      let w = 0;
      if (p.sub) {
        if (o.draw !== false) ctx.fillText(p.sub, cx, y + o.drop);
        w = ctx.measureText(p.sub).width;
      }
      if (p.sup) {
        if (o.draw !== false) ctx.fillText(p.sup, cx, y - o.rise);
        w = Math.max(w, ctx.measureText(p.sup).width);
      }
      cx += w;
    }
  });
  return cx - x;
}

// rotated text reading upwards, baseline at x = bx, centred on y = cy
function upText(ctx, parts, bx, cy, o) {
  ctx.save();
  const w = richText(ctx, parts, 0, 0, Object.assign({}, o, { draw: false }));
  ctx.translate(bx, cy);
  ctx.rotate(-Math.PI / 2);
  richText(ctx, parts, -w / 2, 0, o);
  ctx.restore();
}

function legendLine(ctx, x1, x2, y, color, width) {
  ctx.strokeStyle = color;
  ctx.lineWidth = width;
  ctx.beginPath();
  ctx.moveTo(x1, y);
  ctx.lineTo(x2, y);
  ctx.stroke();
}

const timeText = {
  id: 'timeText',
  afterDraw(chart) {
    const ctx = chart.ctx;
    ctx.save();
    ctx.textAlign = 'left';
    ctx.textBaseline = 'alphabetic';
    legendLine(ctx, 154, 258, 82, YELLOW, 2);
    legendLine(ctx, 154, 258, 148, RED, 2);
    legendLine(ctx, 154, 258, 220, GREEN, 2);
    ctx.fillStyle = BLUE;
    richText(ctx, ['NR POM'], 273, 97, { size: 50 });
    ctx.fillStyle = RED;
    richText(ctx, ['NR (NH', { sub: '4', sup: '+' }, ' + SO', { sub: '4', sup: '=' }, ')'], 273, 163,
      { size: 50, small: 36, drop: 19, rise: 19 });
    ctx.fillStyle = GREEN;
    richText(ctx, ['Scattering (green)'], 273, 235, { size: 51 });

    // y title: g/m with its superscript 3 set beside the m
    ctx.fillStyle = BLUE;
    upText(ctx, ['g/m'], 79, 441, { size: 50 });
    upText(ctx, ['3'], 39, 411, { size: 36 });
    ctx.textAlign = 'center';
    ctx.font = '50px ' + FONT;
    ctx.fillText('DOY', 505, 894);
    ctx.restore();
  }
};

const massText = {
  id: 'massText',
  afterDraw(chart) {
    const ctx = chart.ctx;
    ctx.save();
    ctx.textAlign = 'left';
    ctx.textBaseline = 'alphabetic';
    ctx.fillStyle = BLUE;
    richText(ctx, ['Y = 3.2 (NH', { sub: '4', sup: '+' }, '+ SO', { sub: '4', sup: '=' }, ') + 7.1 (POM) + 15'],
      713, 49, { size: 50, small: 36, drop: 15, rise: 16 });
    richText(ctx, ['r', { sup: '2' }, '=0.71'], 1616, 49, { size: 48, small: 34, rise: 19 });

    legendLine(ctx, 1146, 1207, 121, YELLOW, 7);
    ctx.fillStyle = BLUE;
    richText(ctx, ['POM'], 1220, 137, { size: 50 });
    ctx.fillStyle = RED;
    ctx.beginPath();
    ctx.arc(1183, 194, 7.5, 0, Math.PI * 2);
    ctx.fill();
    ctx.fillStyle = BLUE;
    richText(ctx, ['NH', { sub: '4', sup: '+' }, '+ SO', { sub: '4', sup: '=' }], 1220, 200,
      { size: 50, small: 36, drop: 17, rise: 19 });

    // right-hand y title: Mm with -1 set beside the m
    ctx.fillStyle = GREEN;
    upText(ctx, ['Mm'], 1022, 430, { size: 50 });
    upText(ctx, ['-1'], 996, 400, { size: 34 });
    ctx.fillStyle = BLUE;
    richText(ctx, ['Mass ( g/m', { sup: '3' }, ')'], 1287, 912, { size: 50, small: 34, rise: 25 });
    ctx.restore();
  }
};

const hiddenGrid = { drawOnChartArea: false, drawTicks: false, color: 'rgba(0,0,0,0)' };

new Chart(document.getElementById('timeChart'), {
  type: 'line',
  data: {
    datasets: [
      { label: 'Scattering (green)', data: scatPts, yAxisID: 'y2', borderColor: '#00ee00',
        borderWidth: 1.6, stepped: true, pointRadius: 0, order: 0 },
      { label: 'NR (NH4+ + SO4=)', data: nhsoPts, yAxisID: 'y', borderColor: RED,
        borderWidth: 1.5, pointRadius: 0, order: 1 },
      { label: 'NR POM', data: pomPts, yAxisID: 'y', borderColor: YELLOW,
        borderWidth: 1.4, pointRadius: 0, order: 2 }
    ]
  },
  options: {
    responsive: false,
    animation: false,
    devicePixelRatio: 1,
    events: [],
    layout: { padding: { left: 0, right: 872, top: 204, bottom: 81 } },
    plugins: { legend: { display: false }, tooltip: { enabled: false } },
    scales: {
      x: {
        type: 'linear', position: 'bottom', min: 216, max: 218,
        afterBuildTicks: fixTicks(doyTicks),
        afterFit: s => { s.height = 60; },
        ticks: { color: BLUE, font: tickFont, padding: 10, maxRotation: 0, autoSkip: false,
          callback: v => v.toFixed(1) },
        grid: hiddenGrid,
        border: { color: BLUE, width: 3 }
      },
      y: {
        type: 'linear', position: 'left', min: 0, max: 22,
        afterBuildTicks: fixTicks(concTicks),
        afterFit: s => { s.width = 140; },
        ticks: { color: BLUE, font: tickFont, padding: 18, autoSkip: false },
        grid: hiddenGrid,
        border: { color: BLUE, width: 3 }
      },
      y2: {
        type: 'linear', position: 'right', min: 50, max: 180,
        afterBuildTicks: fixTicks(scatTicks),
        afterFit: s => { s.width = 100; },
        ticks: { color: GREEN, font: tickFont, padding: 12, autoSkip: false },
        grid: hiddenGrid,
        border: { color: GREEN, width: 3 }
      }
    }
  },
  plugins: [
    tickMarkPlugin([
      { scale: 'x', step: 0.25, major: 0.5, long: 12, short: 7, side: 'bottom', color: BLUE },
      { scale: 'y', step: 1, major: 2, long: 12, short: 6, side: 'left', color: BLUE },
      { scale: 'y2', step: 10, major: 20, long: 12, short: 6, side: 'inRight', color: GREEN }
    ]),
    timeText
  ]
});

new Chart(document.getElementById('massChart'), {
  type: 'scatter',
  data: {
    datasets: [
      { label: 'NH4+ + SO4=', data: rowsToPts(nhsoRows), pointStyle: 'circle', pointRadius: 4.3,
        backgroundColor: RED, borderWidth: 0, order: 0 },
      { label: 'fit', type: 'line', data: fitMass.map((m, i) => ({ x: m, y: fitScat[i] })),
        borderColor: YELLOW, borderWidth: 9, borderCapStyle: 'butt', pointRadius: 0, showLine: true, order: 1 },
      { label: 'POM', data: rowsToPts(pomRows), pointStyle: 'rect', pointRadius: 7.6,
        backgroundColor: YELLOW, borderWidth: 0, order: 2 }
    ]
  },
  options: {
    responsive: false,
    animation: false,
    devicePixelRatio: 1,
    events: [],
    layout: { padding: { left: 958, right: 50, top: 203, bottom: 81 } },
    plugins: { legend: { display: false }, tooltip: { enabled: false } },
    scales: {
      x: {
        type: 'linear', position: 'bottom', min: 0, max: 20,
        afterBuildTicks: fixTicks(massTicks),
        afterFit: s => { s.height = 60; },
        ticks: { color: BLUE, font: tickFont, padding: 14, maxRotation: 0, autoSkip: false },
        grid: hiddenGrid,
        border: { color: BLUE, width: 3 }
      },
      y: {
        type: 'linear', position: 'left', min: 50, max: 180,
        afterBuildTicks: fixTicks(scatTicks),
        afterFit: s => { s.width = 100; },
        ticks: { color: GREEN, font: tickFont, padding: 16, autoSkip: false },
        grid: hiddenGrid,
        border: { color: GREEN, width: 3 }
      }
    }
  },
  plugins: [
    tickMarkPlugin([
      { scale: 'x', step: 1, major: 5, long: 14, short: 7, side: 'bottom', color: BLUE },
      { scale: 'y', step: 10, major: 20, long: 13, short: 7, side: 'left', color: GREEN }
    ]),
    massText
  ]
});
</script>
</body>
</html>
